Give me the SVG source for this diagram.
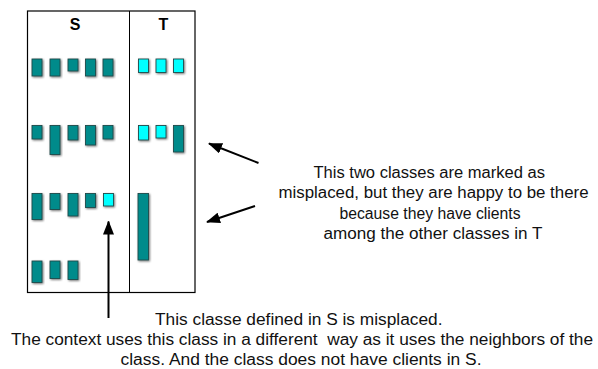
<svg xmlns="http://www.w3.org/2000/svg" width="598" height="369" viewBox="0 0 598 369">
  <defs>
    <marker id="head" viewBox="0 0 14 11" refX="13" refY="5.5" markerWidth="14" markerHeight="11" markerUnits="userSpaceOnUse" orient="auto">
      <path d="M0,0 L14,5.5 L0,11 Z" fill="#000"/>
    </marker>
    <filter id="halo" x="-30%" y="-30%" width="160%" height="160%">
      <feGaussianBlur in="SourceAlpha" stdDeviation="0.8" result="b"/>
      <feOffset in="b" dx="0.6" dy="0.6" result="o"/>
      <feComponentTransfer in="o" result="s"><feFuncA type="linear" slope="0.55"/></feComponentTransfer>
      <feMerge><feMergeNode in="s"/><feMergeNode in="SourceGraphic"/></feMerge>
    </filter>
  </defs>
  <style>
    .frame { fill: #fff; stroke: #000; stroke-width: 1.2; }
    .sep { stroke: #000; stroke-width: 1; }
    .title { font-family: "Liberation Sans", Arial, sans-serif; font-size: 16px; font-weight: bold; text-anchor: middle; fill: #000; }
    .cls { fill: #008B8B; stroke: #1f4a4a; stroke-width: 0.9; filter: url(#halo); }
    .mis { fill: #00FFFF; stroke: #1f4a4a; stroke-width: 0.9; filter: url(#halo); }
    .note { font-family: "Liberation Sans", Arial, sans-serif; font-size: 16px; fill: #111; }
    .arrow { stroke: #000; stroke-width: 2; fill: none; marker-end: url(#head); }
  </style>
  <rect width="598" height="369" fill="#fff"/>

  <!-- package frame split into S and T -->
  <g id="packages">
    <rect class="frame" x="27.5" y="11" width="167.5" height="281.5"/>
    <line class="sep" x1="129.5" y1="11" x2="129.5" y2="292.5"/>
    <text class="title" x="75" y="29.5">S</text>
    <text class="title" x="163.5" y="29.5">T</text>
  </g>

  <!-- classes in S -->
  <g id="S-classes">
    <rect class="cls" x="32" y="59" width="10" height="17"/>
    <rect class="cls" x="50" y="59" width="10" height="17"/>
    <rect class="cls" x="68" y="59" width="10" height="12"/>
    <rect class="cls" x="85.5" y="59" width="10" height="17"/>
    <rect class="cls" x="103" y="59" width="10" height="17"/>

    <rect class="cls" x="32" y="125.5" width="10" height="13.5"/>
    <rect class="cls" x="50" y="125.5" width="10" height="29"/>
    <rect class="cls" x="68" y="125.5" width="10" height="14.5"/>
    <rect class="cls" x="85.5" y="125.5" width="10" height="19.5"/>
    <rect class="cls" x="103" y="125.5" width="10" height="13.5"/>

    <rect class="cls" x="32" y="193.5" width="10" height="26"/>
    <rect class="cls" x="50" y="193.5" width="10" height="16"/>
    <rect class="cls" x="68" y="193.5" width="10" height="22.5"/>
    <rect class="cls" x="85.5" y="193.5" width="10" height="14"/>
    <rect id="misplaced-in-S" class="mis" x="103.5" y="193.5" width="10" height="12.5"/>

    <rect class="cls" x="32" y="261" width="10" height="21.5"/>
    <rect class="cls" x="50" y="261" width="10" height="17.5"/>
    <rect class="cls" x="68" y="261" width="10" height="18.5"/>
  </g>

  <!-- classes in T -->
  <g id="T-classes">
    <rect class="mis" x="138.5" y="59" width="10" height="13.5"/>
    <rect class="mis" x="156" y="59" width="10" height="13.5"/>
    <rect class="mis" x="173.5" y="59" width="10" height="13.5"/>

    <rect class="mis" x="138.5" y="125.5" width="10" height="14.5"/>
    <rect class="mis" x="156" y="125.5" width="10" height="12.5"/>
    <rect class="cls" x="173.5" y="125.5" width="10" height="26.5"/>

    <rect class="cls" x="138" y="193.5" width="10.5" height="66.5"/>
  </g>

  <!-- pointers from the notes -->
  <g id="connectors">
    <line class="arrow" x1="108.5" y1="318" x2="108.5" y2="221.5"/>
    <line class="arrow" x1="258.5" y1="163" x2="209" y2="143.5"/>
    <line class="arrow" x1="255" y1="206" x2="207" y2="222"/>
  </g>

  <g id="note-T">
    <text class="note" x="313.5" y="177.5" textLength="231.5" lengthAdjust="spacingAndGlyphs">This two classes are marked as</text>
    <text class="note" x="278.5" y="198" textLength="310" lengthAdjust="spacingAndGlyphs">misplaced, but they are happy to be there</text>
    <text class="note" x="339.5" y="218.5" textLength="181" lengthAdjust="spacingAndGlyphs">because they have clients</text>
    <text class="note" x="323.5" y="238.5" textLength="219" lengthAdjust="spacingAndGlyphs">among the other classes in T</text>
  </g>

  <g id="note-S">
    <text class="note" x="155" y="324.5" textLength="287.5" lengthAdjust="spacingAndGlyphs">This classe defined in S is misplaced.</text>
    <text class="note" x="11" y="345" textLength="582" lengthAdjust="spacingAndGlyphs" xml:space="preserve">The context uses this class in a different  way as it uses the neighbors of the</text>
    <text class="note" x="120.5" y="364.5" textLength="361" lengthAdjust="spacingAndGlyphs">class. And the class does not have clients in S.</text>
  </g>
</svg>
